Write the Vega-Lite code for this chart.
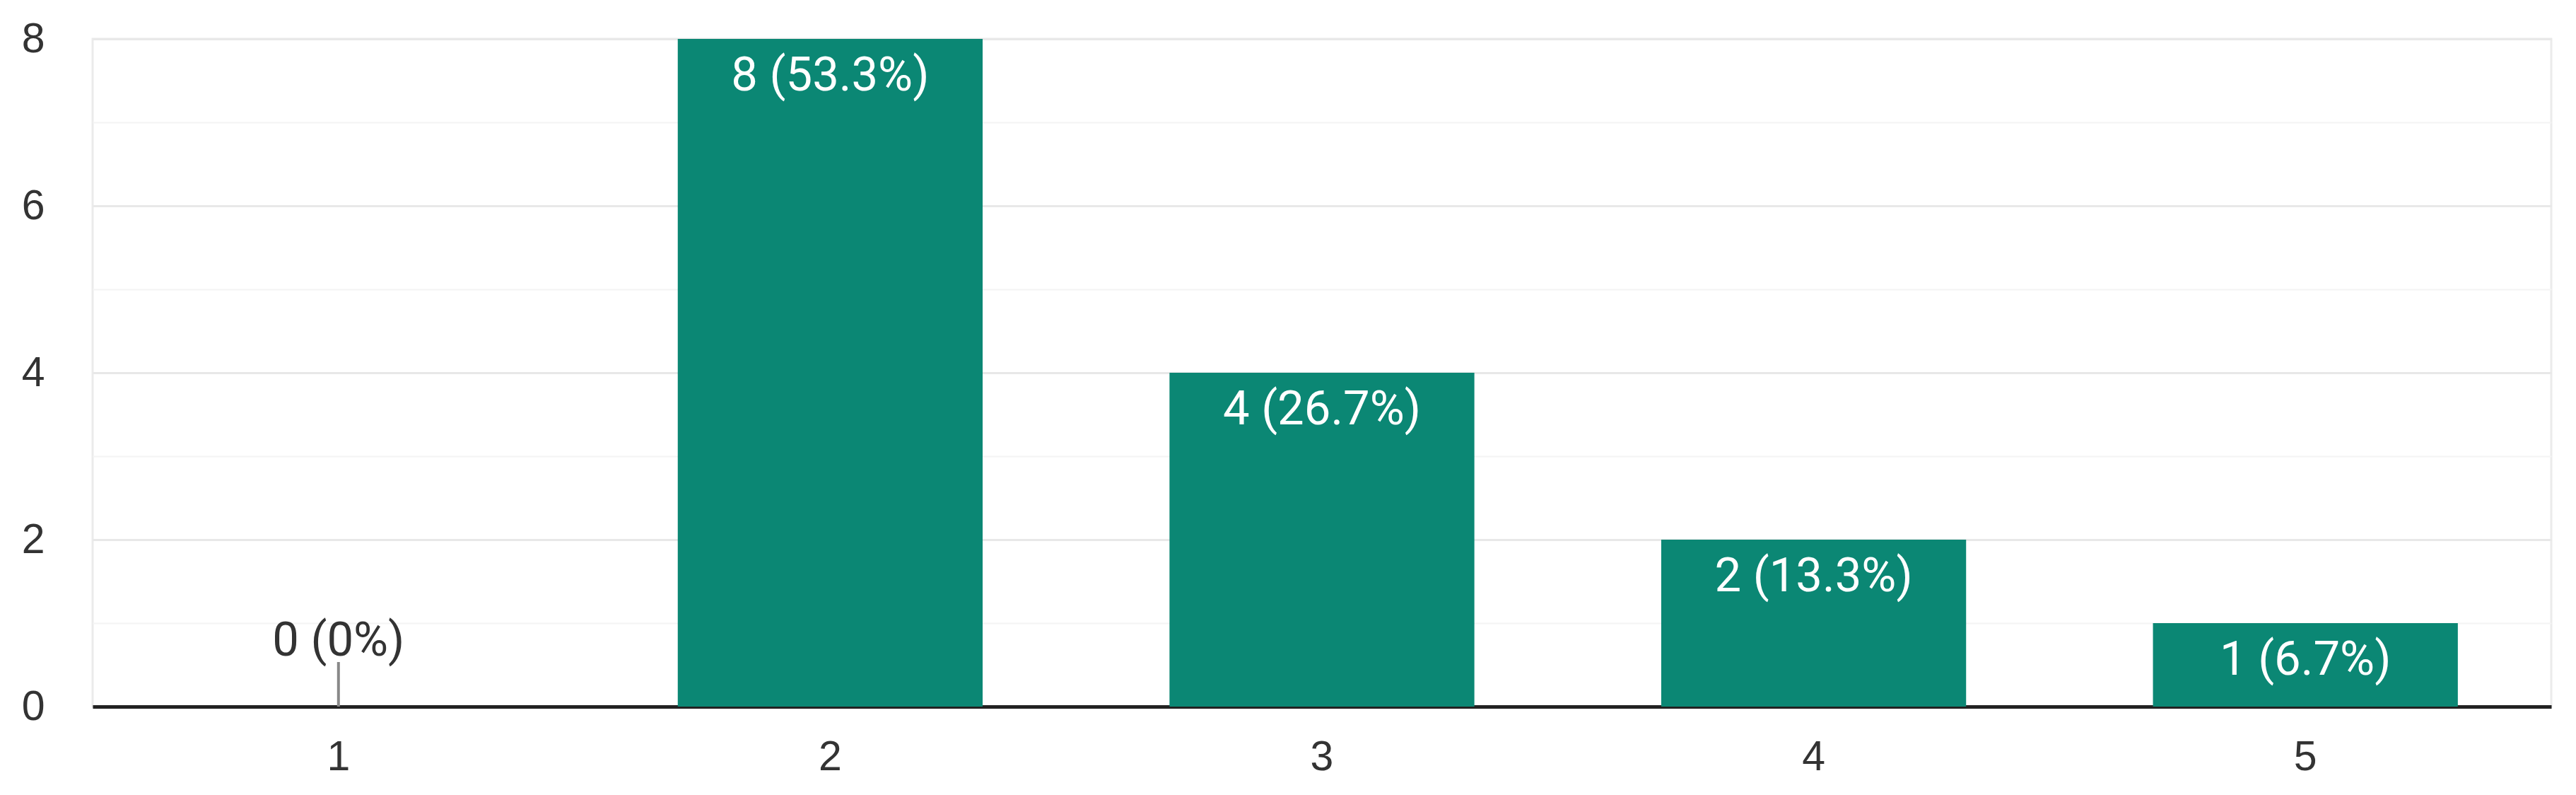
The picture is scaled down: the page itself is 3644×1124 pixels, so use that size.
{
  "$schema": "https://vega.github.io/schema/vega-lite/v6.json",
  "width": 3478,
  "height": 944,
  "autosize": {"type": "none"},
  "padding": {"left": 131, "top": 55, "right": 35, "bottom": 125},
  "background": "white",
  "config": {
    "view": {"stroke": "#ebebeb", "strokeWidth": 3},
    "axis": {"labelFont": "Liberation Sans", "labelColor": "#333333", "labelFontSize": 59, "title": null}
  },
  "data": {
    "values": [
      {"rating": "1", "count": 0, "label": "0 (0%)"},
      {"rating": "2", "count": 8, "label": "8 (53.3%)"},
      {"rating": "3", "count": 4, "label": "4 (26.7%)"},
      {"rating": "4", "count": 2, "label": "2 (13.3%)"},
      {"rating": "5", "count": 1, "label": "1 (6.7%)"}
    ]
  },
  "encoding": {
    "x": {
      "field": "rating",
      "type": "ordinal",
      "scale": {"paddingInner": 0.38, "paddingOuter": 0.19},
      "axis": {"labelAngle": 0, "ticks": false, "domainColor": "#222222", "domainWidth": 5, "labelPadding": 42, "grid": false}
    },
    "y": {
      "field": "count",
      "type": "quantitative",
      "scale": {"domain": [0, 8], "nice": false},
      "axis": {
        "values": [0, 1, 2, 3, 4, 5, 6, 7, 8],
        "labelExpr": "datum.value % 2 == 0 ? datum.label : ''",
        "ticks": false,
        "domain": false,
        "labelPadding": 68,
        "gridColor": {"condition": {"test": "datum.value % 2 == 0", "value": "#e8e8e8"}, "value": "#f4f4f4"},
        "gridWidth": {"condition": {"test": "datum.value % 2 == 0", "value": 3}, "value": 2}
      }
    }
  },
  "layer": [
    {"mark": {"type": "bar", "color": "#0b8774"}},
    {
      "transform": [{"filter": "datum.count == 0"}],
      "mark": {"type": "rule", "color": "#888888", "strokeWidth": 4, "y2Offset": -63},
      "encoding": {"y2": {"datum": 0}}
    },
    {
      "transform": [{"filter": "datum.count > 0"}],
      "mark": {"type": "text", "font": "Roboto", "fontSize": 67, "color": "white", "baseline": "alphabetic", "dy": 73},
      "encoding": {"text": {"field": "label"}}
    },
    {
      "transform": [{"filter": "datum.count == 0"}],
      "mark": {"type": "text", "font": "Roboto", "fontSize": 67, "color": "#333333", "baseline": "alphabetic", "dy": -72},
      "encoding": {"text": {"field": "label"}}
    }
  ]
}
